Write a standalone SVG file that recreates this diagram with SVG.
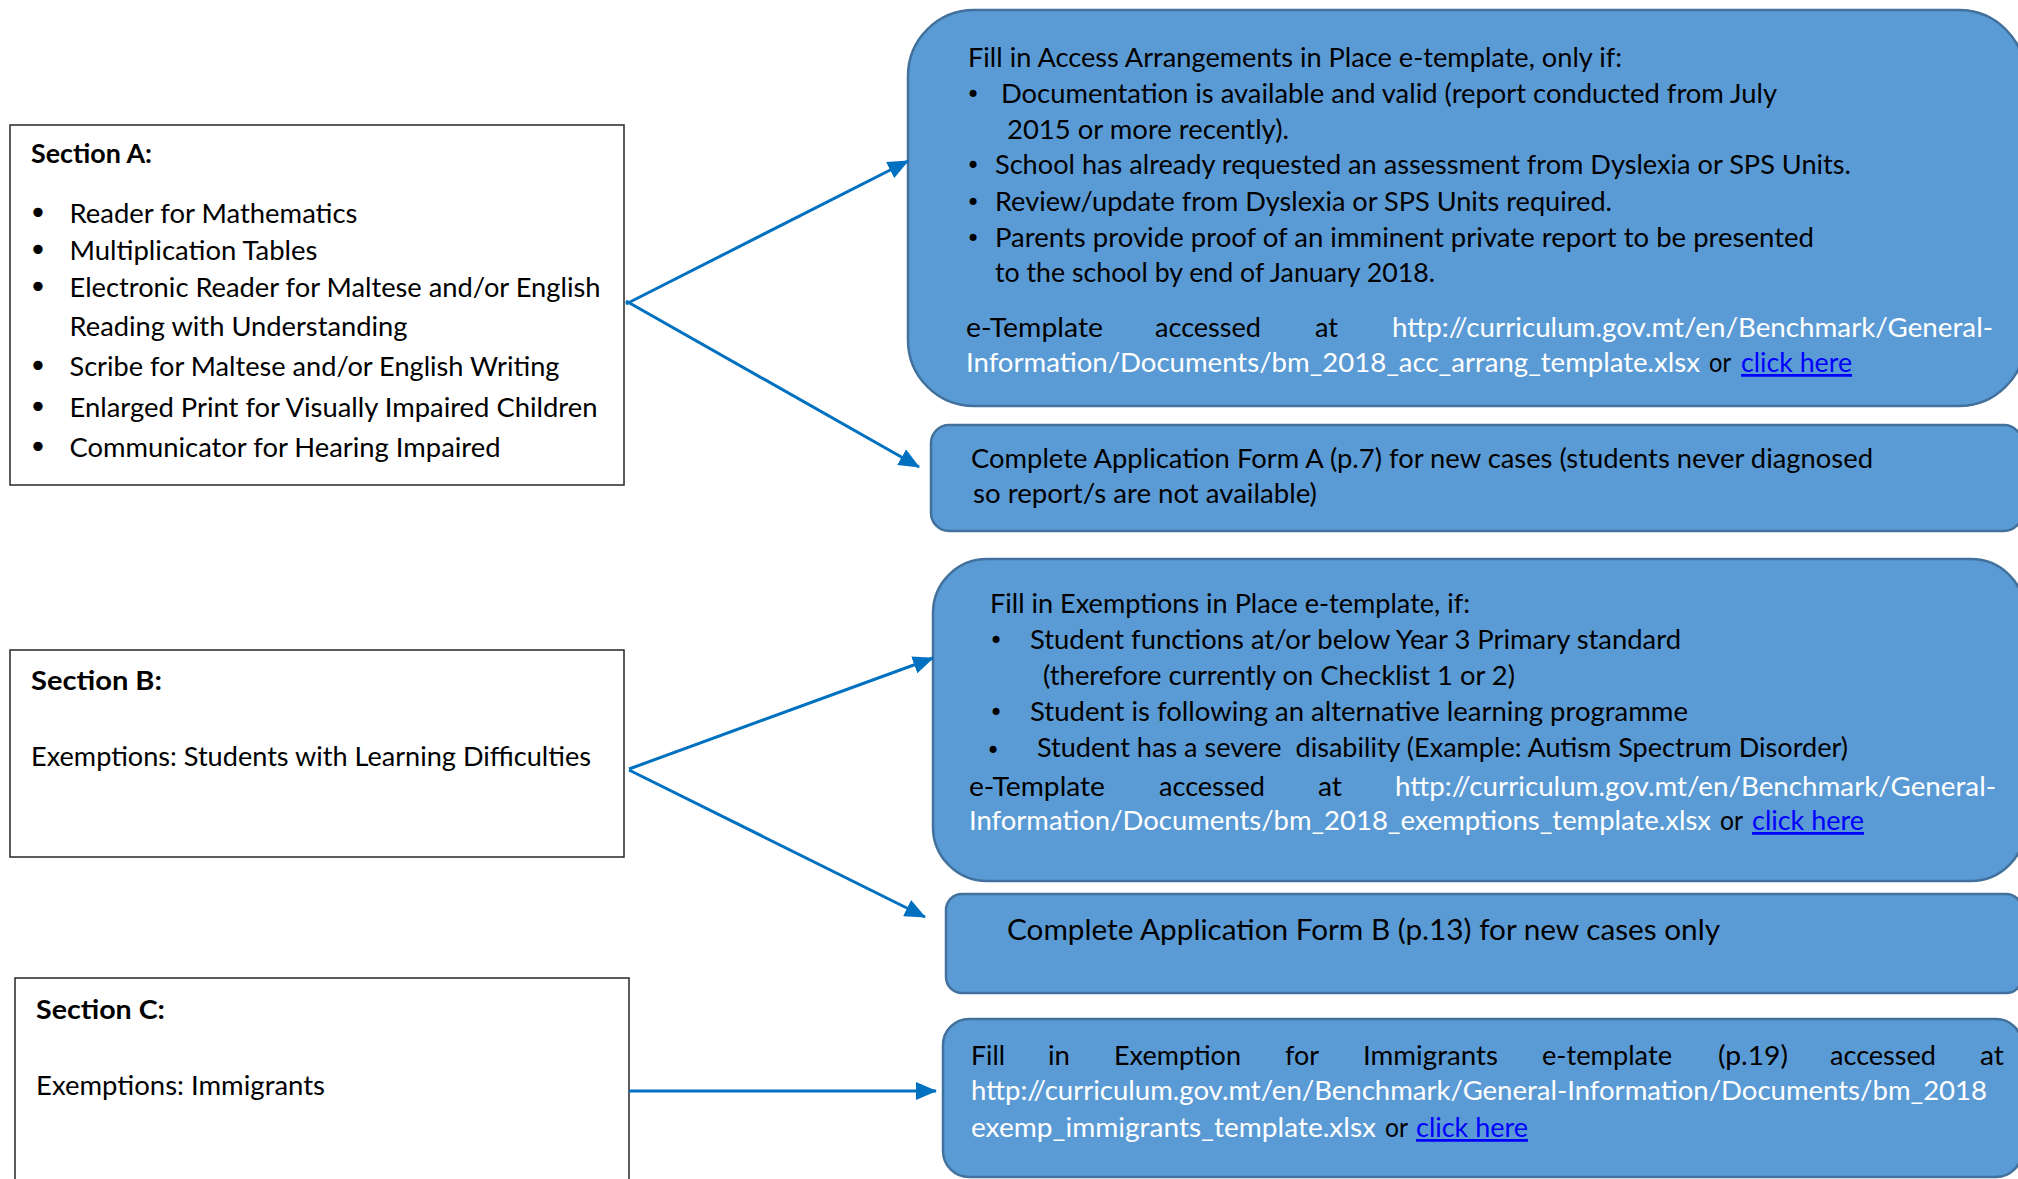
<svg xmlns="http://www.w3.org/2000/svg" width="2018" height="1179" viewBox="0 0 2018 1179">
<style>
.sec{fill:#fff;stroke:#262626;stroke-width:1.5}
.bx{fill:#5B9BD5;stroke:#41719C;stroke-width:2.5}
.t{font-family:Lato,"Liberation Sans",sans-serif;font-size:27.5px;fill:#000}
.h{font-weight:bold}
.w{fill:#fff}
.lk{fill:#0000FF;text-decoration:underline}
.big{font-size:29.5px}
.bul{font-family:"DejaVu Sans",sans-serif;font-size:32px;fill:#000}
.bs{font-family:"DejaVu Sans",sans-serif;font-size:24px;fill:#000}
.cn{stroke:#0070C0;stroke-width:3;fill:none;marker-end:url(#arr)}
</style>
<defs>
<marker id="arr" markerUnits="userSpaceOnUse" markerWidth="21" markerHeight="18" refX="20" refY="9" orient="auto">
<path d="M0,0 L21,9 L0,18 z" fill="#0070C0"/>
</marker>
</defs>

<g id="sectionA">
<rect class="sec" x="10" y="125" width="614" height="360"/>
<text class="t h" x="31" y="163" textLength="121" lengthAdjust="spacingAndGlyphs">Section A:</text>
<text class="bul" x="38" y="224" text-anchor="middle">•</text>
<text class="t" x="69.5" y="223" textLength="288" lengthAdjust="spacingAndGlyphs">Reader for Mathematics</text>
<text class="bul" x="38" y="261" text-anchor="middle">•</text>
<text class="t" x="69.5" y="260" textLength="248" lengthAdjust="spacingAndGlyphs">Multiplication Tables</text>
<text class="bul" x="38" y="298" text-anchor="middle">•</text>
<text class="t" x="69.5" y="297" textLength="531" lengthAdjust="spacingAndGlyphs">Electronic Reader for Maltese and/or English</text>
<text class="t" x="69.5" y="336" textLength="338" lengthAdjust="spacingAndGlyphs">Reading with Understanding</text>
<text class="bul" x="38" y="377" text-anchor="middle">•</text>
<text class="t" x="69.5" y="376" textLength="490" lengthAdjust="spacingAndGlyphs">Scribe for Maltese and/or English Writing</text>
<text class="bul" x="38" y="418" text-anchor="middle">•</text>
<text class="t" x="69.5" y="417" textLength="528" lengthAdjust="spacingAndGlyphs">Enlarged Print for Visually Impaired Children</text>
<text class="bul" x="38" y="458" text-anchor="middle">•</text>
<text class="t" x="69.5" y="457" textLength="431" lengthAdjust="spacingAndGlyphs">Communicator for Hearing Impaired</text>
</g>

<g id="sectionB">
<rect class="sec" x="10" y="650" width="614" height="207"/>
<text class="t h" x="31" y="690" textLength="131" lengthAdjust="spacingAndGlyphs">Section B:</text>
<text class="t" x="31" y="766" textLength="560" lengthAdjust="spacingAndGlyphs">Exemptions: Students with Learning Difficulties</text>
</g>

<g id="sectionC">
<rect class="sec" x="15" y="978" width="614" height="230"/>
<text class="t h" x="36" y="1019" textLength="129" lengthAdjust="spacingAndGlyphs">Section C:</text>
<text class="t" x="36" y="1095" textLength="289" lengthAdjust="spacingAndGlyphs">Exemptions: Immigrants</text>
</g>

<g id="accessTemplate">
<rect class="bx" x="908" y="10" width="1117" height="396" rx="66" ry="66"/>
<text class="t" x="968" y="67" textLength="654" lengthAdjust="spacingAndGlyphs">Fill in Access Arrangements in Place e-template, only if:</text>
<text class="bs" x="973" y="103" text-anchor="middle">•</text>
<text class="t" x="1001" y="103" textLength="776" lengthAdjust="spacingAndGlyphs">Documentation is available and valid (report conducted from July</text>
<text class="t" x="1007" y="139" textLength="282" lengthAdjust="spacingAndGlyphs">2015 or more recently).</text>
<text class="bs" x="973" y="174" text-anchor="middle">•</text>
<text class="t" x="995" y="174" textLength="856" lengthAdjust="spacingAndGlyphs">School has already requested an assessment from Dyslexia or SPS Units.</text>
<text class="bs" x="973" y="211" text-anchor="middle">•</text>
<text class="t" x="995" y="211" textLength="617" lengthAdjust="spacingAndGlyphs">Review/update from Dyslexia or SPS Units required.</text>
<text class="bs" x="973" y="247" text-anchor="middle">•</text>
<text class="t" x="995" y="247" textLength="819" lengthAdjust="spacingAndGlyphs">Parents provide proof of an imminent private report to be presented</text>
<text class="t" x="995" y="282" textLength="440" lengthAdjust="spacingAndGlyphs">to the school by end of January 2018.</text>
<text class="t" x="966" y="337" textLength="137" lengthAdjust="spacingAndGlyphs">e-Template</text>
<text class="t" x="1155" y="337" textLength="106" lengthAdjust="spacingAndGlyphs">accessed</text>
<text class="t" x="1315" y="337" textLength="23" lengthAdjust="spacingAndGlyphs">at</text>
<text class="t w" x="1392" y="337" textLength="601" lengthAdjust="spacingAndGlyphs">http://curriculum.gov.mt/en/Benchmark/General-</text>
<text class="t w" x="966" y="372" textLength="734" lengthAdjust="spacingAndGlyphs">Information/Documents/bm_2018_acc_arrang_template.xlsx</text>
<text class="t" x="1709" y="372" textLength="22" lengthAdjust="spacingAndGlyphs">or</text>
<text class="t lk" x="1741" y="372" textLength="111" lengthAdjust="spacingAndGlyphs">click here</text>
</g>

<g id="formA">
<rect class="bx" x="931" y="425" width="1091" height="106" rx="18" ry="18"/>
<text class="t" x="971" y="468" textLength="902" lengthAdjust="spacingAndGlyphs">Complete Application Form A (p.7) for new cases (students never diagnosed</text>
<text class="t" x="973" y="503" textLength="344" lengthAdjust="spacingAndGlyphs">so report/s are not available)</text>
</g>

<g id="exemptionsTemplate">
<rect class="bx" x="933" y="559" width="1092" height="322" rx="54" ry="54"/>
<text class="t" x="990" y="613" textLength="480" lengthAdjust="spacingAndGlyphs">Fill in Exemptions in Place e-template, if:</text>
<text class="bs" x="996" y="649" text-anchor="middle">•</text>
<text class="t" x="1030" y="649" textLength="651" lengthAdjust="spacingAndGlyphs">Student functions at/or below Year 3 Primary standard</text>
<text class="t" x="1043" y="685" textLength="472" lengthAdjust="spacingAndGlyphs">(therefore currently on Checklist 1 or 2)</text>
<text class="bs" x="996" y="721" text-anchor="middle">•</text>
<text class="t" x="1030" y="721" textLength="658" lengthAdjust="spacingAndGlyphs">Student is following an alternative learning programme</text>
<text class="bs" x="993" y="759" text-anchor="middle">•</text>
<text class="t" x="1037" y="757" textLength="811" lengthAdjust="spacingAndGlyphs" xml:space="preserve">Student has a severe  disability (Example: Autism Spectrum Disorder)</text>
<text class="t" x="969" y="796" textLength="136" lengthAdjust="spacingAndGlyphs">e-Template</text>
<text class="t" x="1159" y="796" textLength="106" lengthAdjust="spacingAndGlyphs">accessed</text>
<text class="t" x="1318" y="796" textLength="24" lengthAdjust="spacingAndGlyphs">at</text>
<text class="t w" x="1395" y="796" textLength="601" lengthAdjust="spacingAndGlyphs">http://curriculum.gov.mt/en/Benchmark/General-</text>
<text class="t w" x="969" y="830" textLength="742" lengthAdjust="spacingAndGlyphs">Information/Documents/bm_2018_exemptions_template.xlsx</text>
<text class="t" x="1720" y="830" textLength="23" lengthAdjust="spacingAndGlyphs">or</text>
<text class="t lk" x="1752" y="830" textLength="112" lengthAdjust="spacingAndGlyphs">click here</text>
</g>

<g id="formB">
<rect class="bx" x="946" y="894" width="1076" height="99" rx="16" ry="16"/>
<text class="t big" x="1007" y="940" textLength="713" lengthAdjust="spacingAndGlyphs">Complete Application Form B (p.13) for new cases only</text>
</g>

<g id="immigrantsTemplate">
<rect class="bx" x="943" y="1019" width="1079" height="158" rx="26" ry="26"/>
<text class="t" x="971" y="1065" textLength="34" lengthAdjust="spacingAndGlyphs">Fill</text>
<text class="t" x="1048" y="1065" textLength="22" lengthAdjust="spacingAndGlyphs">in</text>
<text class="t" x="1114" y="1065" textLength="127" lengthAdjust="spacingAndGlyphs">Exemption</text>
<text class="t" x="1285" y="1065" textLength="34" lengthAdjust="spacingAndGlyphs">for</text>
<text class="t" x="1363" y="1065" textLength="135" lengthAdjust="spacingAndGlyphs">Immigrants</text>
<text class="t" x="1542" y="1065" textLength="130" lengthAdjust="spacingAndGlyphs">e-template</text>
<text class="t" x="1718" y="1065" textLength="70" lengthAdjust="spacingAndGlyphs">(p.19)</text>
<text class="t" x="1830" y="1065" textLength="106" lengthAdjust="spacingAndGlyphs">accessed</text>
<text class="t" x="1980" y="1065" textLength="24" lengthAdjust="spacingAndGlyphs">at</text>
<text class="t w" x="971" y="1100" textLength="1016" lengthAdjust="spacingAndGlyphs">http://curriculum.gov.mt/en/Benchmark/General-Information/Documents/bm_2018</text>
<text class="t w" x="971" y="1137" textLength="405" lengthAdjust="spacingAndGlyphs">exemp_immigrants_template.xlsx</text>
<text class="t" x="1385" y="1137" textLength="23" lengthAdjust="spacingAndGlyphs">or</text>
<text class="t lk" x="1416" y="1137" textLength="112" lengthAdjust="spacingAndGlyphs">click here</text>
</g>

<g id="connectors">
<line class="cn" x1="626" y1="304" x2="908" y2="161"/>
<line class="cn" x1="626" y1="301" x2="919" y2="467"/>
<line class="cn" x1="629" y1="769" x2="933" y2="658"/>
<line class="cn" x1="629" y1="770" x2="925" y2="917"/>
<line class="cn" x1="629" y1="1091" x2="936" y2="1091"/>
</g>
</svg>
